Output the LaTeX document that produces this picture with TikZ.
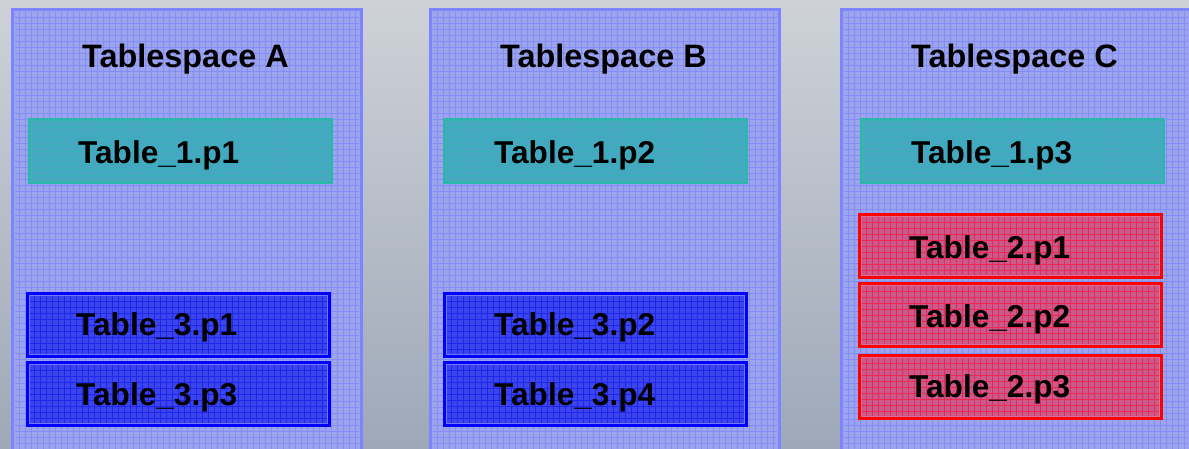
\documentclass[tikz,border=0pt]{standalone}
\usepackage{fontspec}
\setmainfont{Liberation Sans}
\usetikzlibrary{calc}
\definecolor{bgtop}{RGB}{206,210,216}
\definecolor{bgbot}{RGB}{158,168,184}
\definecolor{tsfill}{RGB}{156,164,236}
\definecolor{tsgrid}{RGB}{132,140,248}
\definecolor{tsborder}{RGB}{124,132,255}
\definecolor{tealfill}{RGB}{72,166,194}
\definecolor{tealgrid}{RGB}{52,178,184}
\definecolor{tealborder}{RGB}{45,182,174}
\definecolor{bluefill}{RGB}{60,68,236}
\definecolor{bluegrid}{RGB}{30,40,236}
\definecolor{blueborder}{RGB}{0,0,255}
\definecolor{bluein}{RGB}{110,120,245}
\definecolor{redfill}{RGB}{200,90,140}
\definecolor{redgrid}{RGB}{238,40,84}
\definecolor{redborder}{RGB}{255,0,0}
\definecolor{redin}{RGB}{220,110,150}
\definecolor{tealin}{RGB}{80,170,190}
\tikzset{
  gridded/.style n args={2}{path picture={
    \draw[#1, line width=0.7pt] (path picture bounding box.south west) grid[step=6pt] (path picture bounding box.north east);
    \draw[#2, line width=0.8pt] ($(path picture bounding box.south west)+(2.2pt,2.2pt)$) rectangle ($(path picture bounding box.north east)+(-2.2pt,-2.2pt)$);}},
  tspace/.style={draw=tsborder, line width=3pt, fill=tsfill, gridded={tsgrid}{tsfill}, rectangle, anchor=north west, minimum width=349pt, minimum height=460pt, inner sep=0pt},
  tblbox/.style={rectangle, anchor=north west, line width=3pt, minimum width=302pt, minimum height=63pt, inner sep=0pt},
  tealbox/.style={tblbox, draw=tealborder, fill=tealfill, gridded={tealgrid}{tealin}},
  bluebox/.style={tblbox, draw=blueborder, fill=bluefill, gridded={bluegrid}{bluein}},
  redbox/.style={tblbox, draw=redborder, fill=redfill, gridded={redgrid}{redin}},
  lbl/.style={anchor=base west, inner sep=0pt, font=\fontsize{31.6}{36}\selectfont\bfseries, text=black},
  ttl/.style={lbl, font=\fontsize{32.4}{38}\selectfont\bfseries},
}
\begin{document}
\begin{tikzpicture}[x=1pt,y=-1pt]
\useasboundingbox (0,0) rectangle (1189,448);
\clip (0,0) rectangle (1189,448);
\shade[top color=bgtop, bottom color=bgbot] (0,0) rectangle (1189,448);
% tablespaces
\node[tspace] (tsa) at (11,8) {};
\node[tspace] (tsb) at (429,8) {};
\node[tspace] (tsc) at (840,8) {};
\node[ttl] (tla) at (82,67) {Tablespace A};
\node[ttl] (tlb) at (500,67) {Tablespace B};
\node[ttl] (tlc) at (911,67) {Tablespace C};
% Tablespace A
\node[tealbox] (a1) at (28,118) {};
\node[lbl] (a1t) at ($(a1.north west)+(50,45)$) {Table\_1.p1};
\node[bluebox] (a2) at (26,292) {};
\node[lbl] (a2t) at ($(a2.north west)+(50,43)$) {Table\_3.p1};
\node[bluebox] (a3) at (26,361) {};
\node[lbl] (a3t) at ($(a3.north west)+(50,44)$) {Table\_3.p3};
% Tablespace B
\node[tealbox] (b1) at (443,118) {};
\node[lbl] (b1t) at ($(b1.north west)+(51,45)$) {Table\_1.p2};
\node[bluebox] (b2) at (443,292) {};
\node[lbl] (b2t) at ($(b2.north west)+(51,43)$) {Table\_3.p2};
\node[bluebox] (b3) at (443,361) {};
\node[lbl] (b3t) at ($(b3.north west)+(51,44)$) {Table\_3.p4};
% Tablespace C
\node[tealbox] (c1) at (860,118) {};
\node[lbl] (c1t) at ($(c1.north west)+(51,45)$) {Table\_1.p3};
\node[redbox] (c2) at (858,213) {};
\node[lbl] (c2t) at ($(c2.north west)+(51,45)$) {Table\_2.p1};
\node[redbox] (c3) at (858,282) {};
\node[lbl] (c3t) at ($(c3.north west)+(51,45)$) {Table\_2.p2};
\node[redbox] (c4) at (858,354) {};
\node[lbl] (c4t) at ($(c4.north west)+(51,43)$) {Table\_2.p3};
\end{tikzpicture}
\end{document}
